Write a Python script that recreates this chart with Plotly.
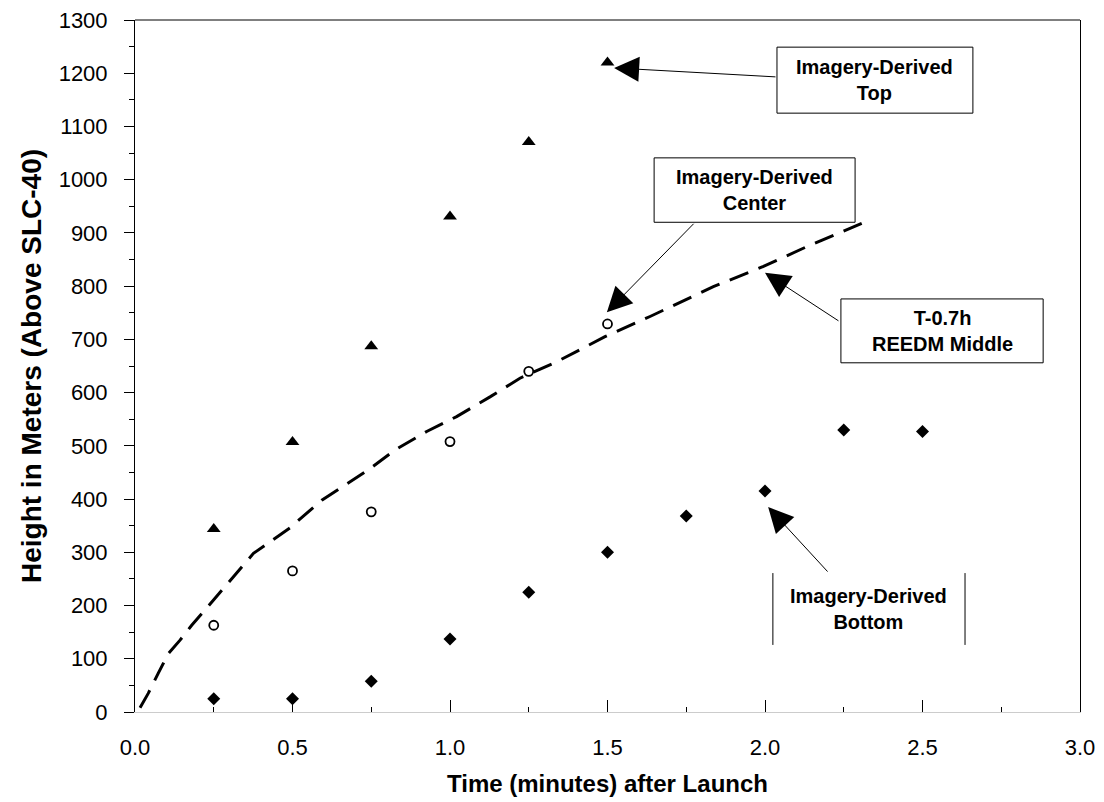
import plotly.graph_objects as go

# ---- data ----
time_top = [0.25, 0.5, 0.75, 1.0, 1.25, 1.5]
height_top = [344, 507, 687, 931, 1071, 1220]

time_center = [0.25, 0.5, 0.75, 1.0, 1.25, 1.5]
height_center = [163, 265, 376, 508, 640, 729]

time_bottom = [0.25, 0.5, 0.75, 1.0, 1.25, 1.5, 1.75, 2.0, 2.25, 2.5]
height_bottom = [25, 25, 58, 137, 225, 300, 368, 415, 530, 527]

time_reedm = [0.016, 0.042, 0.074, 0.106, 0.143, 0.18, 0.217, 0.249, 0.312, 0.376,
              0.492, 0.593, 0.741, 0.825, 0.926, 1.021, 1.127, 1.222, 1.339, 1.492,
              1.635, 1.836, 1.995, 2.132, 2.307]
height_reedm = [8, 35, 73, 110, 135, 163, 188, 210, 254, 298,
                346, 398, 455, 492, 527, 555, 592, 627, 658, 705,
                743, 799, 837, 874, 918]

x_ticks = [0.0, 0.5, 1.0, 1.5, 2.0, 2.5, 3.0]
x_tick_labels = ["0.0", "0.5", "1.0", "1.5", "2.0", "2.5", "3.0"]
y_ticks = list(range(0, 1301, 100))

FONT = "Liberation Sans, Arial, sans-serif"

fig = go.Figure()

fig.add_trace(go.Scatter(
    x=time_reedm, y=height_reedm, mode="lines",
    line=dict(color="black", width=3, dash="20px,11px"),
    name="T-0.7h REEDM Middle", showlegend=False, hoverinfo="skip"))

fig.add_trace(go.Scatter(
    x=time_top, y=height_top, mode="markers",
    marker=dict(symbol="triangle-up", size=12, color="black"),
    name="Imagery-Derived Top", showlegend=False))

fig.add_trace(go.Scatter(
    x=time_center, y=height_center, mode="markers",
    marker=dict(symbol="circle-open", size=9, color="black", line=dict(width=1.8)),
    name="Imagery-Derived Center", showlegend=False))

fig.add_trace(go.Scatter(
    x=time_bottom, y=height_bottom, mode="markers",
    marker=dict(symbol="diamond", size=10, color="black"),
    name="Imagery-Derived Bottom", showlegend=False))

# ---- callout boxes ----
boxes = [
    # (x0, x1, y0, y1, text, full border)
    (2.038, 2.660, 1125, 1249, "Imagery-Derived<br>Top", True),
    (1.648, 2.286, 920, 1041, "Imagery-Derived<br>Center", True),
    (2.241, 2.883, 656, 776, "T-0.7h<br>REEDM Middle", True),
    (2.025, 2.635, 126, 261, "Imagery-Derived<br>Bottom", False),
]
for x0, x1, y0, y1, txt, full in boxes:
    if full:
        fig.add_shape(type="rect", xref="x", yref="y", x0=x0, x1=x1, y0=y0, y1=y1,
                      line=dict(color="black", width=1), fillcolor="white", layer="above")
    else:
        for xv in (x0, x1):
            fig.add_shape(type="line", xref="x", yref="y", x0=xv, x1=xv, y0=y0, y1=y1,
                          line=dict(color="black", width=1), layer="above")
    fig.add_annotation(x=(x0 + x1) / 2, y=(y0 + y1) / 2, xref="x", yref="y",
                       text=txt, showarrow=False, align="center",
                       font=dict(family=FONT, size=20, color="black", weight="bold"))

# ---- arrows: (tip_x, tip_y, tail_x, tail_y) ----
arrows = [
    (1.521, 1210, 2.038, 1193),
    (1.498, 751, 1.778, 920),
    (2.000, 825, 2.238, 733),
    (2.010, 385, 2.203, 261),
]
for tx, ty, sx, sy in arrows:
    fig.add_annotation(x=tx, y=ty, ax=sx, ay=sy, xref="x", yref="y", axref="x", ayref="y",
                       text="", showarrow=True, arrowhead=2, arrowsize=5,
                       arrowwidth=1, arrowcolor="black", standoff=0)

# top frame line
fig.add_shape(type="line", xref="paper", yref="paper", x0=0, x1=1, y0=1, y1=1,
              line=dict(color="black", width=1))

fig.update_layout(
    width=1104, height=802,
    margin=dict(l=127, r=32, t=12, b=98),
    paper_bgcolor="white", plot_bgcolor="white",
    font=dict(family=FONT, color="black"),
    showlegend=False,
)

fig.update_xaxes(
    range=[0, 3.0], tickvals=x_ticks, ticktext=x_tick_labels,
    automargin=False, ticklabeloverflow="allow",
    showgrid=False, zeroline=False,
    showline=True, linecolor="#cccccc", linewidth=1,
    ticks="inside", ticklen=12, tickcolor="black", tickwidth=1,
    minor=dict(dtick=0.25, ticks="inside", ticklen=5, tickcolor="black", tickwidth=1),
    ticklabelstandoff=16,
    tickfont=dict(family=FONT, size=22, color="black"),
    title=dict(text="<b>Time (minutes) after Launch</b>", standoff=15,
               font=dict(family=FONT, size=24, color="black")),
)

fig.update_yaxes(
    range=[0, 1300], tickvals=y_ticks,
    automargin=False, ticklabeloverflow="allow",
    showgrid=False, zeroline=False,
    showline=True, linecolor="black", linewidth=1, mirror=True,
    ticks="outside", ticklen=10, tickcolor="black", tickwidth=1,
    minor=dict(dtick=50, ticks="outside", ticklen=5, tickcolor="black", tickwidth=1),
    ticklabelstandoff=12,
    tickfont=dict(family=FONT, size=22, color="black"),
    title=dict(text="<b>Height in Meters (Above SLC-40)</b>", standoff=8,
               font=dict(family=FONT, size=28, color="black")),
)

fig.write_html("out.html")
